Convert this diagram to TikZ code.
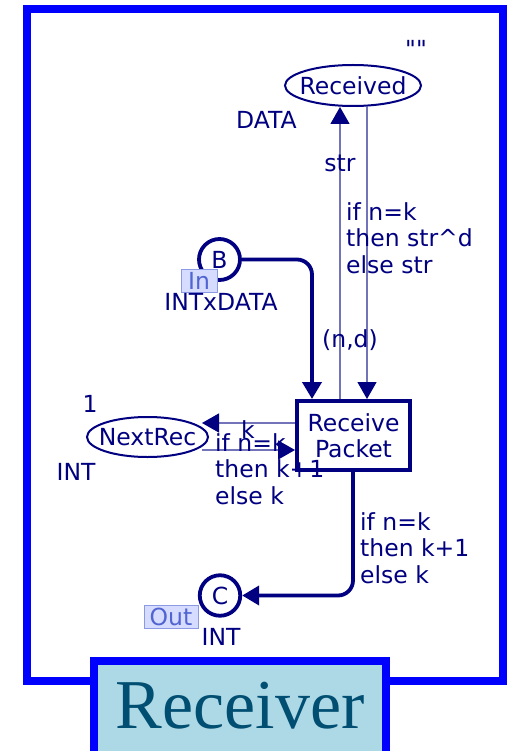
\documentclass[tikz,border=0pt]{standalone}
\usepackage{fontspec}
\newfontfamily\netfont{DejaVu Sans}
\newfontfamily\pagefont{Liberation Serif}
\usetikzlibrary{arrows.meta,shapes.geometric}
\definecolor{netc}{HTML}{000080}
\definecolor{pageb}{HTML}{0000FF}
\definecolor{tagf}{HTML}{D6DCFF}
\definecolor{tagd}{HTML}{8C9AE6}
\definecolor{tagt}{HTML}{5064D2}
\definecolor{boxf}{HTML}{ADD8E6}
\definecolor{boxt}{HTML}{004E72}

\begin{document}
\begin{tikzpicture}[x=1pt,y=-1pt,
  every node/.style={font=\netfont\fontsize{23.5}{26.5}\selectfont,text=netc,inner sep=0pt},
  plc/.style={draw=netc,ellipse,line width=2pt,inner xsep=-7pt,minimum width=136pt,minimum height=41pt},
  port/.style={draw=netc,circle,line width=3.8pt,minimum size=41pt},
  trans/.style={draw=netc,line width=4pt,minimum width=113pt,minimum height=69pt,align=center},
  porttag/.style={draw=tagd,fill=tagf,text=tagt,line width=1pt,minimum height=23pt},
  insc/.style={align=left,anchor=base west},
  thinarc/.style={draw=netc!55,line width=1.3pt,-{Triangle[length=17pt,width=19pt,color=netc]}},
  bigarc/.style={draw=netc,line width=3.8pt,rounded corners=15pt,-{Triangle[length=17pt,width=19pt]}}]
\useasboundingbox (0,0) rectangle (508,751);
\draw[pageb,line width=8pt] (27,9.5) rectangle (503,681);
\draw[pageb,fill=boxf,line width=8pt] (94,661) rectangle (386,770);
\node[anchor=base,text=boxt,font=\pagefont\fontsize{70}{80}\selectfont] (title) at (240,728) {Receiver};

\node[plc] (received) at (353,85.5) {Received};
\node[anchor=base] (recinit) at (416,57.5) {""};
\node[anchor=base west] (rectype) at (236,129) {DATA};
\node[trans] (recv) at (353.5,435.5) {Receive\\Packet};
\node[port] (B) at (219.5,259.5) {B};
\node[porttag,minimum width=36pt] (intag) at (199,281) {In};
\node[anchor=base] (btype) at (221,310) {INTxDATA};
\node[plc,minimum width=121pt,minimum height=40pt] (nextrec) at (147.5,437) {NextRec};
\node[anchor=base] (nrinit) at (90,412) {1};
\node[anchor=base] (nrtype) at (76,480) {INT};
\node[port,minimum size=40.5pt] (C) at (220,595.5) {C};
\node[porttag,minimum width=54pt] (outtag) at (171,616.5) {Out};
\node[anchor=base] (ctype) at (221,645) {INT};

\draw[thinarc] ([xshift=-13.5pt]recv.north) -- ([xshift=-13pt]received.south);
\draw[thinarc] ([xshift=14pt]received.south) -- ([xshift=13.5pt]recv.north);
\draw[bigarc] (B.east) -| ([xshift=-41.5pt]recv.north);
\draw[thinarc] ([yshift=12.5pt]recv.west) -- ([xshift=-7pt,yshift=14pt]nextrec.east);
\draw[thinarc] ([xshift=-7pt,yshift=-13pt]nextrec.east) -- ([yshift=-14.5pt]recv.west);
\draw[bigarc] ([xshift=-0.5pt]recv.south) |- (C.east);

\node[anchor=base] (strlab) at (340,172) {str};
\node[insc] (recupd) at (346,273) {if n=k\\then str\textasciicircum d\\else str};
\node (ndlab) at (350,340) {(n,d)};
\node (klab) at (248,430) {k};
\node[insc] (nrupd) at (215,504) {if n=k\\then k+1\\else k};
\node[insc] (cupd) at (360,583) {if n=k\\then k+1\\else k};
\end{tikzpicture}
\end{document}
